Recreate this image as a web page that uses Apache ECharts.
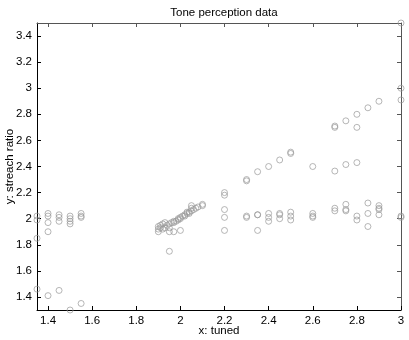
<!DOCTYPE html>
<html>
<head>
<meta charset="utf-8">
<script src="https://cdn.jsdelivr.net/npm/echarts@6/dist/echarts.min.js"></script>
<style>
html,body{margin:0;padding:0;background:#fff;}
#chart{width:409px;height:340px;}
</style>
</head>
<body>
<div id="chart"></div>
<script>
var titleText = "Tone perception data";
var xName = "x: tuned";
var yName = "y: streach ratio";
var xTicks = [1.4, 1.6, 1.8, 2, 2.2, 2.4, 2.6, 2.8, 3];
var yTicks = [1.4, 1.6, 1.8, 2, 2.2, 2.4, 2.6, 2.8, 3, 3.2, 3.4];

var xTuned = [
  1.35, 1.35, 1.35, 1.35,
  1.40, 1.40, 1.40, 1.40, 1.40,
  1.45, 1.45, 1.45, 1.45,
  1.50, 1.50, 1.50, 1.50, 1.50,
  1.55, 1.55, 1.55, 1.55,
  1.90, 1.90, 1.90, 1.91, 1.91, 1.92, 1.92, 1.93, 1.93, 1.94, 1.95, 1.95, 1.96, 1.97, 1.97, 1.98, 1.99, 1.99, 2.00, 2.00,
  2.01, 2.02, 2.02, 2.03, 2.03, 2.04, 2.04, 2.05, 2.05, 2.06, 2.07, 2.08, 2.10, 2.10, 2.05,
  1.95, 1.95, 1.97, 2.00,
  2.2, 2.2, 2.2, 2.2, 2.2,
  2.3, 2.3, 2.3, 2.3,
  2.35, 2.35, 2.35, 2.35,
  2.4, 2.4, 2.4, 2.4,
  2.45, 2.45, 2.45, 2.45,
  2.5, 2.5, 2.5, 2.5, 2.5,
  2.6, 2.6, 2.6, 2.6,
  2.7, 2.7, 2.7, 2.7, 2.7,
  2.75, 2.75, 2.75, 2.75, 2.75,
  2.8, 2.8, 2.8, 2.8, 2.8,
  2.85, 2.85, 2.85, 2.85,
  2.9, 2.9, 2.9, 2.9, 2.9,
  3.0, 3.0, 3.0, 3.0, 3.0
];
var yRatio = [
  2.02, 1.99, 1.85, 1.46,
  2.04, 2.02, 1.97, 1.90, 1.41,
  2.03, 2.01, 1.98, 1.45,
  2.02, 2.00, 1.98, 1.96, 1.30,
  2.04, 2.02, 2.01, 1.35,
  1.90, 1.92, 1.94, 1.93, 1.95, 1.92, 1.96, 1.97, 1.93, 1.95, 1.96, 1.93, 1.97, 1.97, 1.98, 1.98, 1.99, 2.00, 2.00, 2.01,
  2.02, 2.02, 2.03, 2.04, 2.05, 2.05, 2.04, 2.06, 2.08, 2.07, 2.08, 2.09, 2.10, 2.11, 2.10,
  1.75, 1.90, 1.90, 1.91,
  2.20, 2.18, 2.07, 2.01, 1.91,
  2.30, 2.29, 2.02, 2.01,
  2.36, 2.03, 2.03, 1.91,
  2.40, 2.04, 2.01, 1.98,
  2.45, 2.04, 2.03, 2.00,
  2.50, 2.51, 2.05, 2.02, 1.99,
  2.40, 2.04, 2.02, 2.01,
  2.70, 2.71, 2.365, 2.08, 2.06,
  2.75, 2.415, 2.11, 2.07, 2.06,
  2.80, 2.70, 2.43, 2.02, 1.99,
  2.85, 2.12, 2.04, 1.94,
  2.90, 2.10, 2.08, 2.07, 2.03,
  3.50, 3.00, 2.91, 2.02, 2.01
];

var points = xTuned.map(function (x, i) { return [x, yRatio[i]]; });

var font = "Liberation Sans, Arial, Helvetica, sans-serif";
var chart = echarts.init(document.getElementById('chart'), null, {renderer: 'canvas'});

function fmt(v) { return String(Math.round(v * 100) / 100); }

chart.setOption({
  animation: false,
  backgroundColor: '#fff',
  title: {
    text: titleText,
    left: 219, top: 2,
    textAlign: 'center',
    textStyle: {fontFamily: font, fontSize: 11.5, fontWeight: 'normal', color: '#000'}
  },
  grid: {left: 37, right: 8, top: 23, bottom: 30, show: false, containLabel: false, outerBoundsMode: 'none'},
  xAxis: [{
    type: 'value', min: 1.35, max: 3, position: 'bottom',
    name: xName, nameLocation: 'middle', nameGap: 15, nameMoveOverlap: false,
    nameTextStyle: {fontFamily: font, fontSize: 11.5, color: '#000', verticalAlign: 'top'},
    axisLine: {show: true, lineStyle: {color: '#000', width: 1}},
    axisTick: {show: true, inside: true, length: 4, customValues: xTicks, lineStyle: {color: '#000'}},
    axisLabel: {show: true, margin: 5, customValues: xTicks, formatter: fmt,
      fontFamily: font, fontSize: 11.5, color: '#000'},
    splitLine: {show: false}
  }, {
    type: 'value', min: 1.35, max: 3, position: 'top',
    axisLine: {show: true, onZero: false, lineStyle: {color: '#555', width: 1}},
    axisTick: {show: true, inside: true, length: 4, customValues: xTicks, lineStyle: {color: '#555'}},
    axisLabel: {show: false},
    splitLine: {show: false}
  }],
  yAxis: [{
    type: 'value', min: 1.3, max: 3.5, position: 'left',
    name: yName, nameLocation: 'middle', nameGap: 21, nameRotate: 90, nameMoveOverlap: false,
    nameTextStyle: {fontFamily: font, fontSize: 11.5, color: '#000'},
    axisLine: {show: true, lineStyle: {color: '#000', width: 1}},
    axisTick: {show: true, inside: true, length: 4, customValues: yTicks, lineStyle: {color: '#000'}},
    axisLabel: {show: true, margin: 5, customValues: yTicks, formatter: fmt,
      fontFamily: font, fontSize: 11.5, color: '#000'},
    splitLine: {show: false}
  }, {
    type: 'value', min: 1.3, max: 3.5, position: 'right',
    axisLine: {show: true, onZero: false, lineStyle: {color: '#555', width: 1}},
    axisTick: {show: true, inside: true, length: 4, customValues: yTicks, lineStyle: {color: '#555'}},
    axisLabel: {show: false},
    splitLine: {show: false}
  }],
  series: [{
    type: 'scatter',
    xAxisIndex: 0, yAxisIndex: 0,
    data: points,
    clip: false,
    symbol: 'circle',
    symbolSize: 6,
    itemStyle: {color: 'rgba(0,0,0,0)', borderColor: '#999', borderWidth: 0.9},
    emphasis: {disabled: true}
  }]
});
</script>
</body>
</html>
